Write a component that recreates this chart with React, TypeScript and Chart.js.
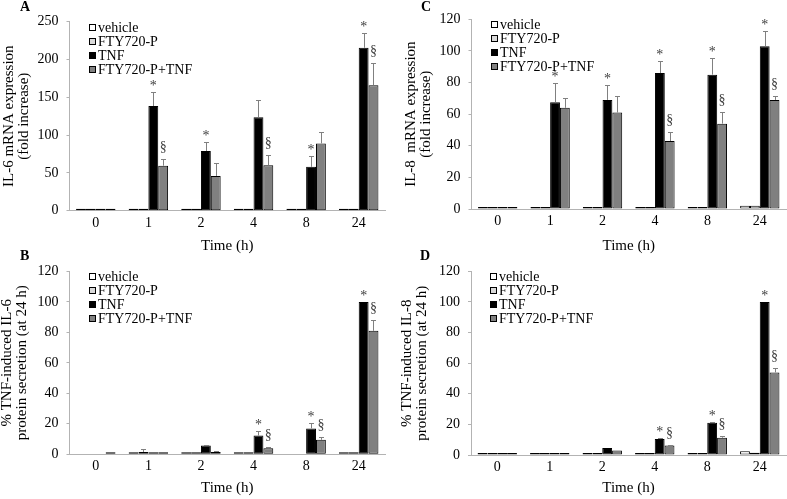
import React, { useEffect, useRef } from 'react';
import { Chart, registerables } from 'chart.js';

Chart.register(...registerables);

// ---------- shared ----------
const categories = ['0', '1', '2', '4', '8', '24'];
const seriesLabels = ['vehicle', 'FTY720-P', 'TNF', 'FTY720-P+TNF'];
const xTitle = 'Time (h)';

// ---------- Panel A: IL-6 mRNA ----------
const aVehicle = [1, 1, 1, 1, 1, 1];
const aFty = [1, 1, 1, 1, 1, 1];
const aTnf = [1, 138.5, 79, 123.5, 58, 215.5];
const aFtyTnf = [1, 59.5, 46, 60, 89, 166];
const aTnfErr = [0, 18.5, 12.5, 23, 14, 19];
const aFtyTnfErr = [0, 8.5, 17.5, 14, 15, 29];
const aTnfSig = ['', '*', '*', '', '*', '*'];
const aFtyTnfSig = ['', '§', '', '§', '', '§'];
const aTitle = ['IL-6 mRNA expression', '(fold increase)'];

// ---------- Panel C: IL-8 mRNA ----------
const cVehicle = [1.2, 1, 1, 1, 1, 2];
const cFty = [0.6, 0.5, 0.5, 0.5, 0.5, 2];
const cTnf = [1, 67.5, 69, 86, 85, 103];
const cFtyTnf = [0.6, 64, 61, 43, 54, 69];
const cTnfErr = [0, 12.4, 9.7, 7.8, 10.7, 9.7];
const cFtyTnfErr = [0, 6.3, 10.3, 5.4, 7.4, 2.4];
const cTnfSig = ['', '*', '*', '*', '*', '*'];
const cFtyTnfSig = ['', '', '', '§', '§', '§'];
const cTitle = ['IL-8  mRNA expression', '(fold increase)'];

// ---------- Panel B: IL-6 protein ----------
const bVehicle = [null, 0.3, 0.3, 0.2, null, 1];
const bFty = [null, 1.5, 0.2, 0.2, null, 0.3];
const bTnf = [null, 0.3, 5.8, 12.3, 17, 100];
const bFtyTnf = [0.1, 0.3, 1.5, 4, 9.5, 81];
const bFtyErr = [0, 1.7, 0, 0, 0, 0];
const bTnfErr = [0, 0, 0.5, 2.8, 3.3, 0];
const bFtyTnfErr = [0, 0, 0.4, 0.5, 2, 6.8];
const bTnfSig = ['', '', '', '*', '*', '*'];
const bFtyTnfSig = ['', '', '', '§', '§', '§'];
const bTitle = ['% TNF-induced IL-6', 'protein secretion (at 24 h)'];

// ---------- Panel D: IL-8 protein ----------
const dVehicle = [0.3, 0.3, 0.3, 0.5, 0.5, 2.5];
const dFty = [0.3, 0.3, 0.3, 0.5, 0.5, 1.5];
const dTnf = [0.3, 1.2, 4.5, 10.4, 21, 100];
const dFtyTnf = [0.3, 0.8, 3, 6.2, 11.3, 54];
const dTnfErr = [0, 0, 0, 0.5, 0.8, 0];
const dFtyTnfErr = [0, 0, 0, 0.6, 0.8, 2.6];
const dTnfSig = ['', '', '', '*', '*', '*'];
const dFtyTnfSig = ['', '', '', '§', '§', '§'];
const dTitle = ['% TNF-induced IL-8', 'protein secretion (at 24 h)'];

// ---------- styles ----------
const FONT = '"Liberation Serif", "Times New Roman", serif';
const seriesFill = ['#ffffff', '#d9d9d9', '#000000', '#808080'];
const axisColor = '#b3b3b3';
const errColor = '#808080';
const markColor = '#404040';

const errorBarPlugin = {
  id: 'errorBars',
  afterDatasetsDraw(chart: any) {
    const ctx = chart.ctx;
    const ys = chart.scales.y;
    chart.data.datasets.forEach((ds: any, di: number) => {
      const meta = chart.getDatasetMeta(di);
      meta.data.forEach((bar: any, i: number) => {
        const v = ds.data[i];
        if (v === null || v === undefined) return;
        const e = ds.errors ? ds.errors[i] : 0;
        const x = Math.round(bar.x) + 0.5;
        const yv = bar.y;
        const yt = Math.min(yv, ys.getPixelForValue(v + (e || 0)));
        if (e) {
          ctx.save();
          ctx.strokeStyle = errColor;
          ctx.lineWidth = 1;
          ctx.beginPath();
          ctx.moveTo(x, yv);
          ctx.lineTo(x, Math.round(yt) + 0.5);
          ctx.moveTo(x - 2.5, Math.round(yt) + 0.5);
          ctx.lineTo(x + 2.5, Math.round(yt) + 0.5);
          ctx.stroke();
          ctx.restore();
        }
        const s = ds.sig ? ds.sig[i] : '';
        if (s) {
          ctx.save();
          ctx.fillStyle = markColor;
          ctx.font = `14px ${FONT}`;
          ctx.textAlign = 'center';
          ctx.textBaseline = 'alphabetic';
          ctx.fillText(s, bar.x, yt - (s === '*' ? 2 : 8));
          ctx.restore();
        }
      });
    });
  },
};

const legendPlugin = {
  id: 'insideLegend',
  afterDraw(chart: any) {
    const ctx = chart.ctx;
    const ca = chart.chartArea;
    ctx.save();
    ctx.font = `14px ${FONT}`;
    ctx.textBaseline = 'middle';
    ctx.textAlign = 'left';
    chart.data.datasets.forEach((ds: any, i: number) => {
      const cy = Math.round(ca.top + 5 + i * 14);
      const bx = Math.round(ca.left + 19);
      ctx.fillStyle = ds.backgroundColor;
      ctx.fillRect(bx, cy - 3, 7, 7);
      ctx.strokeStyle = '#000';
      ctx.lineWidth = 1;
      ctx.strokeRect(bx + 0.5, cy - 2.5, 6, 6);
      ctx.fillStyle = '#000';
      ctx.fillText(ds.label, bx + 9, cy + 1);
    });
    ctx.restore();
  },
};

type Box = { left: number; top: number; width: number; height: number };
type Plot = { left: number; top: number; right: number; bottom: number };

function Panel(props: {
  box: Box;
  plot: Plot;
  yMax: number;
  yStep: number;
  yTitle: string[];
  series: (number | null)[][];
  errors: (number[] | null)[];
  sigs: (string[] | null)[];
  titlePad: number;
}) {
  const ref = useRef<HTMLCanvasElement>(null);
  useEffect(() => {
    const { box, plot } = props;
    const padTop = plot.top - box.top;
    const padRight = box.left + box.width - plot.right;
    const yW = plot.left - box.left;
    const xH = box.top + box.height - plot.bottom;
    const font = { family: FONT, size: 14 };
    const titleFont = { family: FONT, size: 15, lineHeight: 1 };
    const chart = new Chart(ref.current as HTMLCanvasElement, {
      type: 'bar',
      data: {
        labels: categories,
        datasets: props.series.map((d, i) => ({
          label: seriesLabels[i],
          data: d,
          backgroundColor: seriesFill[i],
          borderColor: '#000000',
          borderWidth: 1,
          borderSkipped: false,
          minBarLength: 2,
          categoryPercentage: 0.75,
          barPercentage: 1,
          errors: props.errors[i],
          sig: props.sigs[i],
        })) as any,
      },
      options: {
        animation: false,
        responsive: false,
        maintainAspectRatio: false,
        layout: { padding: { left: 0, top: padTop, right: padRight, bottom: 0 } },
        plugins: { legend: { display: false }, tooltip: { enabled: false } },
        scales: {
          x: {
            grid: { display: true, drawOnChartArea: false, drawTicks: false },
            border: { display: true, color: axisColor, width: 1 },
            ticks: { font, color: '#000', padding: 4, maxRotation: 0 },
            title: { display: true, text: xTitle, font: { family: FONT, size: 15 }, color: '#000', padding: 0 },
            afterFit: (s: any) => {
              s.height = xH;
            },
          },
          y: {
            min: 0,
            max: props.yMax,
            ticks: { stepSize: props.yStep, font, color: '#000', padding: 8 },
            grid: { display: true, drawOnChartArea: false, drawTicks: true, tickLength: 3, color: axisColor },
            border: { display: true, color: axisColor, width: 1 },
            title: {
              display: true,
              text: props.yTitle,
              font: titleFont,
              color: '#000',
              padding: { top: props.titlePad, bottom: 0 },
            },
            afterFit: (s: any) => {
              s.width = yW;
            },
          },
        },
      } as any,
      plugins: [errorBarPlugin, legendPlugin],
    });
    return () => chart.destroy();
  }, []);
  const { box } = props;
  return (
    <canvas
      ref={ref}
      width={box.width}
      height={box.height}
      style={{ position: 'absolute', left: box.left, top: box.top, width: box.width, height: box.height }}
    />
  );
}

const letterStyle = (left: number, top: number): React.CSSProperties => ({
  position: 'absolute',
  left,
  top,
  fontFamily: FONT,
  fontWeight: 'bold',
  fontSize: 14,
  lineHeight: '14px',
  color: '#000',
});

export default function App() {
  return (
    <div style={{ position: 'fixed', left: 0, top: 0, width: 787, height: 499, background: '#fff', overflow: 'hidden' }}>
      <Panel
        box={{ left: 0, top: 0, width: 390, height: 255 }}
        plot={{ left: 69.5, top: 21.7, right: 385, bottom: 210.7 }}
        yMax={250}
        yStep={50}
        yTitle={aTitle}
        series={[aVehicle, aFty, aTnf, aFtyTnf]}
        errors={[null, null, aTnfErr, aFtyTnfErr]}
        sigs={[null, null, aTnfSig, aFtyTnfSig]}
        titlePad={1.5}
      />
      <Panel
        box={{ left: 402, top: 0, width: 385, height: 255 }}
        plot={{ left: 471.5, top: 19.3, right: 786, bottom: 209 }}
        yMax={120}
        yStep={20}
        yTitle={cTitle}
        series={[cVehicle, cFty, cTnf, cFtyTnf]}
        errors={[null, null, cTnfErr, cFtyTnfErr]}
        sigs={[null, null, cTnfSig, cFtyTnfSig]}
        titlePad={1.5}
      />
      <Panel
        box={{ left: 0, top: 255, width: 390, height: 242 }}
        plot={{ left: 69.5, top: 265.7, right: 385, bottom: 454.3 }}
        yMax={120}
        yStep={20}
        yTitle={bTitle}
        series={[bVehicle, bFty, bTnf, bFtyTnf]}
        errors={[null, bFtyErr, bTnfErr, bFtyTnfErr]}
        sigs={[null, null, bTnfSig, bFtyTnfSig]}
        titlePad={0}
      />
      <Panel
        box={{ left: 400, top: 255, width: 387, height: 242 }}
        plot={{ left: 471, top: 266, right: 786, bottom: 455 }}
        yMax={120}
        yStep={20}
        yTitle={dTitle}
        series={[dVehicle, dFty, dTnf, dFtyTnf]}
        errors={[null, null, dTnfErr, dFtyTnfErr]}
        sigs={[null, null, dTnfSig, dFtyTnfSig]}
        titlePad={0}
      />
      <div style={letterStyle(20, 0)}>A</div>
      <div style={letterStyle(20, 249)}>B</div>
      <div style={letterStyle(421, 0)}>C</div>
      <div style={letterStyle(420, 249)}>D</div>
    </div>
  );
}
